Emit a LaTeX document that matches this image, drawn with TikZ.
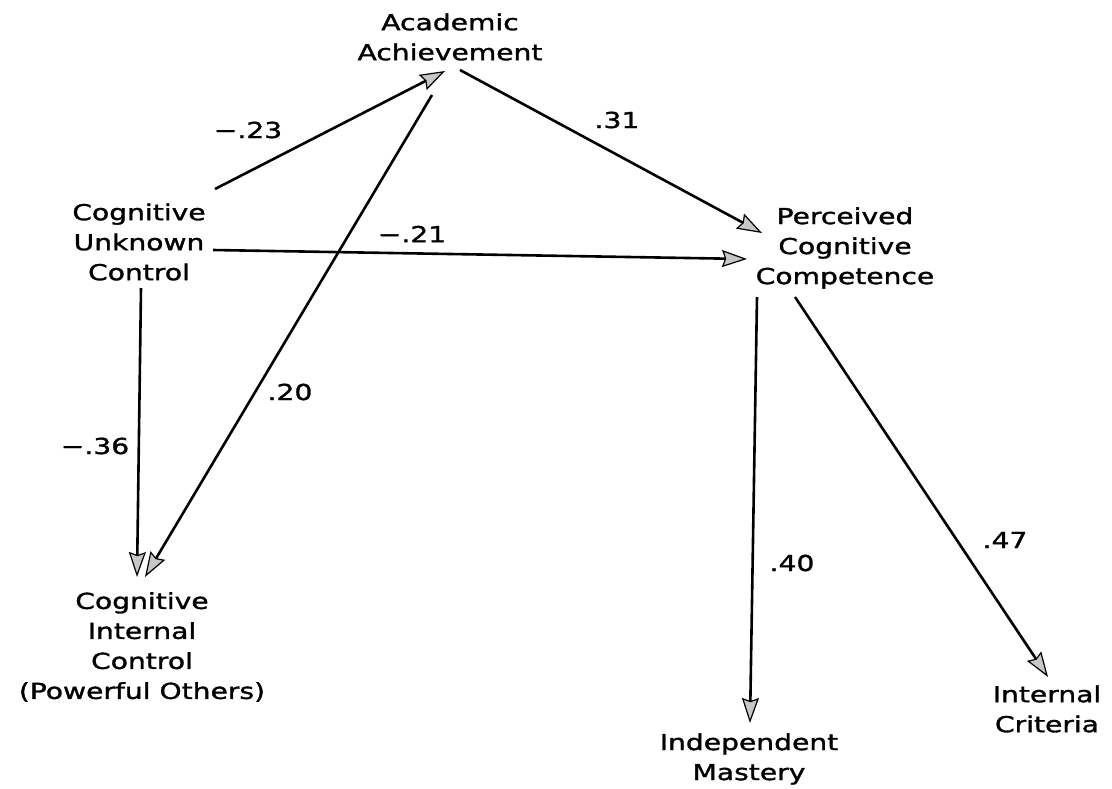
\documentclass[tikz,border=0pt]{standalone}
\usepackage{fontspec}
\setmainfont{DejaVu Sans}[FakeStretch=1.28,FakeBold=1.4]
\usetikzlibrary{arrows.meta}
\begin{document}
\begin{tikzpicture}[x=1pt,y=-1pt,
  lbl/.style={font=\fontsize{22}{30}\selectfont, align=center, inner sep=0pt},
  coef/.style={font=\fontsize{22}{30}\selectfont, inner sep=0pt},
  conn/.style={line width=2.6pt, -{Stealth[length=25pt,width=17pt,inset=3pt,fill=black!22,line width=1.2pt]}}]
\useasboundingbox (0,0) rectangle (1112,788);
% nodes
\node[lbl] (aa)  at (450,37)  {Academic\\Achievement};
\node[lbl] (cuc) at (139,242) {Cognitive\\Unknown\\Control};
\node[lbl] (pcc) at (845,248) {Perceived\\Cognitive\\Competence};
\node[lbl] (icc) at (142,647) {Cognitive\\Internal\\Control\\(Powerful Others)};
\node[lbl] (im)  at (749,759) {Independent\\Mastery};
\node[lbl] (ic)  at (1047,709) {Internal\\Criteria};
% connector end points
\coordinate (cucA) at (215,189);  \coordinate (aaIn) at (445,71);
\coordinate (aaS1) at (432,95);   \coordinate (iccIn2) at (145,577);
\coordinate (aaS2) at (460,70);   \coordinate (pccIn1) at (762,233);
\coordinate (cucB) at (213,250);  \coordinate (pccIn2) at (747,259);
\coordinate (cucC) at (141,288);  \coordinate (iccIn1) at (137,577);
\coordinate (pccS1) at (757,297); \coordinate (imIn) at (750,723);
\coordinate (pccS2) at (795,297); \coordinate (icIn) at (1048,677);
% connectors
\draw[conn] (cucA) -- (aaIn);
\draw[conn] (aaS1) -- (iccIn2);
\draw[conn] (aaS2) -- (pccIn1);
\draw[conn] (cucB) -- (pccIn2);
\draw[conn] (cucC) -- (iccIn1);
\draw[conn] (pccS1) -- (imIn);
\draw[conn] (pccS2) -- (icIn);
% coefficients
\node[coef] (c1) at (248,130) {−.23};
\node[coef] (c2) at (290,392) {.20};
\node[coef] (c3) at (617,120) {.31};
\node[coef] (c4) at (412,234) {−.21};
\node[coef] (c5) at (95,446)  {−.36};
\node[coef] (c6) at (792,563) {.40};
\node[coef] (c7) at (1005,540) {.47};
\end{tikzpicture}
\end{document}
